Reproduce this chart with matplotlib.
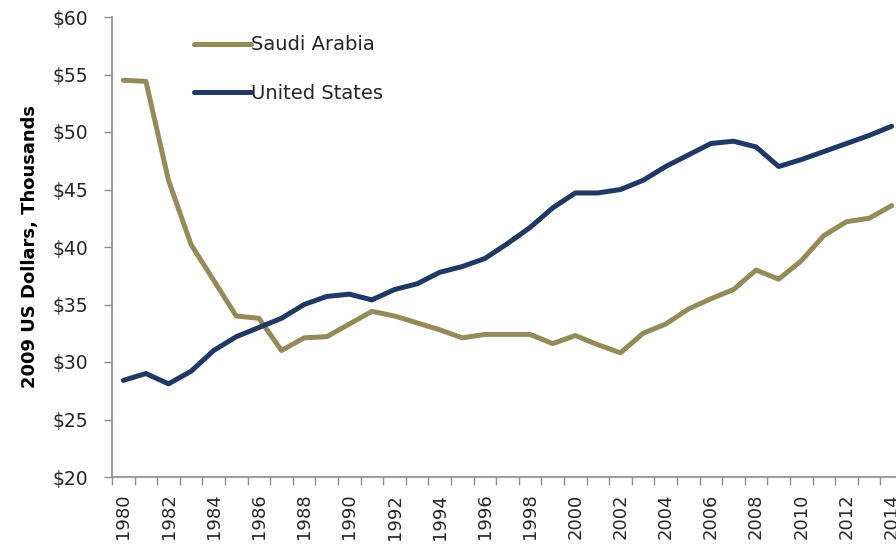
import matplotlib
matplotlib.use("Agg")
import matplotlib.pyplot as plt
from matplotlib.ticker import FixedLocator

years = list(range(1980, 2015))
saudi = [54.5, 54.4, 45.8, 40.2, 37.1, 34.0, 33.8, 31.0, 32.1, 32.2,
         33.3, 34.4, 34.0, 33.4, 32.8, 32.1, 32.4, 32.4, 32.4, 31.6,
         32.3, 31.5, 30.8, 32.5, 33.3, 34.6, 35.5, 36.3, 38.0, 37.2,
         38.8, 41.0, 42.2, 42.5, 43.6]
usa = [28.4, 29.0, 28.1, 29.2, 31.0, 32.2, 33.0, 33.8, 35.0, 35.7,
       35.9, 35.4, 36.3, 36.8, 37.8, 38.3, 39.0, 40.3, 41.7, 43.4,
       44.7, 44.7, 45.0, 45.8, 47.0, 48.0, 49.0, 49.2, 48.7, 47.0,
       47.6, 48.3, 49.0, 49.7, 50.5]
y_ticks = [20, 25, 30, 35, 40, 45, 50, 55, 60]

plt.rcParams['font.family'] = ['DejaVu Sans']
axis_col = "#8c8c8c"
text_col = "#262626"

fig = plt.figure(figsize=(8.96, 5.46), dpi=100)
ax = fig.add_axes([112 / 896, 1 - 477 / 546, 791 / 896, 460 / 546])

x = list(range(len(years)))
ax.plot(x, saudi, color="#958b5a", lw=3.6, label="Saudi Arabia", solid_capstyle="round")
ax.plot(x, usa, color="#1f3864", lw=3.6, label="United States", solid_capstyle="round")

ax.set_xlim(-0.5, len(years) - 0.5)
ax.set_ylim(20, 60)
ax.set_yticks(y_ticks)
ax.set_yticklabels([f"${v}" for v in y_ticks], fontsize=13.5, color=text_col)

ax.set_xticks(x[::2])
ax.set_xticklabels([str(y) for y in years[::2]], rotation=90, fontsize=13, color=text_col)
ax.xaxis.set_minor_locator(FixedLocator([i - 0.5 for i in range(len(years) + 1)]))
ax.tick_params(axis="x", which="major", length=0, pad=12)
ax.tick_params(axis="x", which="minor", length=6, color=axis_col, width=1)
ax.tick_params(axis="y", length=6, color=axis_col, width=1, pad=11)

for s in ["top", "right"]:
    ax.spines[s].set_visible(False)
for s in ["left", "bottom"]:
    ax.spines[s].set_color(axis_col)
    ax.spines[s].set_linewidth(1.2)

ax.set_ylabel("2009 US Dollars, Thousands", fontsize=13, fontweight="bold",
              color="black", labelpad=10)

ax.legend(loc="upper left", bbox_to_anchor=(0.094, 0.977), frameon=False,
          fontsize=14, handlelength=2.9, handletextpad=0.05, labelspacing=1.5,
          borderaxespad=0, borderpad=0.4, labelcolor=text_col)

fig.savefig("out.png", dpi=100)
